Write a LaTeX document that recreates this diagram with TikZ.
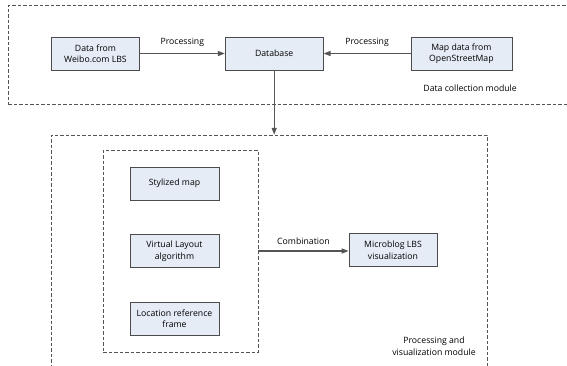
\documentclass[tikz,border=0pt]{standalone}
\usepackage{fontspec}
\setmainfont{Open Sans}
\usetikzlibrary{arrows.meta,positioning}

\definecolor{boxfill}{HTML}{E6ECF6}
\definecolor{linegray}{HTML}{555555}

\begin{document}
\begin{tikzpicture}[
  x=1pt, y=-1pt,
  font=\fontsize{8.7}{11.5}\selectfont,
  box/.style={draw=linegray!90!black, line width=0.7pt, fill=boxfill, align=center, minimum width=88pt, minimum height=33pt, inner sep=2pt},
  group/.style={draw=linegray, dashed, dash pattern=on 3.5pt off 2pt, line width=0.5pt, inner sep=0pt},
  arr/.style={-{Triangle[length=7pt, width=5pt]}, draw=linegray, line width=1.3pt},
  lbl/.style={inner sep=1pt, align=center}
]
\useasboundingbox (0,0) rectangle (567,365);
\clip (0,0) rectangle (567,365);

% data collection module
\node[box] (weibo) at (95.5,53.5) {Data from\\Weibo.com LBS};
\node[box, right=85pt of weibo, minimum width=98pt] (db) {Database};
\node[box, right=87pt of db, minimum width=101pt] (osm) {Map data from\\OpenStreetMap};

\node[group, minimum width=562pt, minimum height=99pt] (collect) at (289,54.5) {};
\node[lbl, anchor=east] (collectlbl) at (518,88) {Data collection module};

% processing and visualization module
\node[group, minimum width=436pt, minimum height=235pt] (process) at (269,252.5) {};
\node[group, minimum width=155pt, minimum height=202pt] (layers) at (180.5,251) {};

\node[box, minimum width=89pt] (styl) at (174.5,183.5) {Stylized map};
\node[box, minimum width=89pt, below=34pt of styl] (virt) {Virtual Layout\\algorithm};
\node[box, minimum width=89pt, below=34pt of virt] (loc) {Location reference\\frame};
\node[box] (vis) at (393,250) {Microblog LBS\\visualization};

\node[lbl] (processlbl) at (434,346) {Processing and\\visualization module};

% connectors
\draw[arr] (weibo) -- node[lbl, above=5pt] {Processing} (db);
\draw[arr] (osm) -- node[lbl, above=5pt] {Processing} (db);
\draw[arr] (db.south) -- (db.south |- process.north);
\draw[arr] (layers.east) -- node[lbl, above=5pt] {Combination} (layers.east -| vis.west);

\end{tikzpicture}
\end{document}
